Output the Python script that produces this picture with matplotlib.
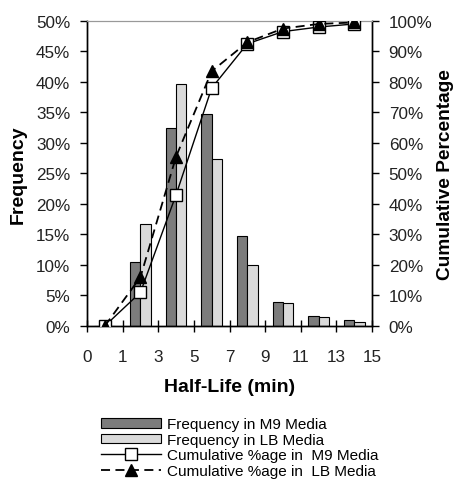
import matplotlib
matplotlib.use("Agg")
import matplotlib.pyplot as plt
import numpy as np
from matplotlib.ticker import FuncFormatter

plt.rcParams['font.family'] = ['Liberation Sans', 'DejaVu Sans']

# Data
bin_edges = ["0", "1", "3", "5", "7", "9", "11", "13", "15"]
freq_m9 = [0.0, 10.5, 32.5, 34.7, 14.7, 4.0, 1.7, 0.9]
freq_lb = [0.0, 16.7, 39.6, 27.3, 10.0, 3.7, 1.5, 0.7]
cum_m9 = [0.0, 11.0, 43.0, 78.0, 92.5, 96.5, 98.0, 99.0]
cum_lb = [0.0, 16.0, 55.5, 83.5, 93.0, 97.5, 99.0, 99.5]

fig = plt.figure(figsize=(4.59, 4.85), dpi=100)
ax = fig.add_axes([0.1895, 0.3258, 0.621, 0.629])
ax2 = ax.twinx()

x = np.arange(len(freq_m9))
w = 0.29
ax.bar(x - w / 2, freq_m9, width=w, color="#7c7c7c", edgecolor="black", linewidth=0.8,
       label="Frequency in M9 Media", zorder=2)
ax.bar(x + w / 2, freq_lb, width=w, color="#dadada", edgecolor="black", linewidth=0.8,
       label="Frequency in LB Media", zorder=2)

ax2.plot(x, cum_m9, color="black", linestyle="-", linewidth=1.0, marker="s", markersize=9,
         markerfacecolor="white", markeredgecolor="black", label="Cumulative %age in  M9 Media", zorder=3)
ax2.plot(x, cum_lb, color="black", linestyle=(0, (5, 3)), linewidth=1.3, marker="^", markersize=8,
         markerfacecolor="black", markeredgecolor="black", label="Cumulative %age in  LB Media", zorder=4)

ax.set_xlim(-0.5, len(freq_m9) - 0.5)
ax.set_ylim(0, 50)
ax2.set_ylim(0, 100)
ax.set_xticks(np.arange(len(bin_edges)) - 0.5)
ax.set_xticklabels(bin_edges)
ax.set_yticks(np.arange(0, 51, 5))
ax.yaxis.set_major_formatter(FuncFormatter(lambda v, p: f"{v:.0f}%"))
ax2.set_yticks(np.arange(0, 101, 10))
ax2.yaxis.set_major_formatter(FuncFormatter(lambda v, p: f"{v:.0f}%"))

fs = 12.3
ax.tick_params(axis="y", direction="out", length=5, width=1, labelsize=fs, pad=7, labelcolor="#222222")
ax2.tick_params(axis="y", direction="out", length=5, width=1, labelsize=fs, pad=7, labelcolor="#222222")
ax.tick_params(axis="x", direction="inout", length=9, width=1, labelsize=fs, pad=12, labelcolor="#222222")

for a in (ax, ax2):
    a.spines["top"].set_color("#999999")
    a.spines["left"].set_linewidth(1.0)
    a.spines["right"].set_linewidth(1.0)
    a.spines["bottom"].set_linewidth(1.0)

ax.set_ylabel("Frequency", fontsize=14, fontweight="bold", labelpad=7)
ax2.set_ylabel("Cumulative Percentage", fontsize=13.8, fontweight="bold", labelpad=3, rotation=90)
ax.set_xlabel("Half-Life (min)", fontsize=14, fontweight="bold", labelpad=10)

h1, l1 = ax.get_legend_handles_labels()
h2, l2 = ax2.get_legend_handles_labels()
fig.legend(h1 + h2, l1 + l2, loc="upper left", bbox_to_anchor=(0.207, 0.150), frameon=False,
           fontsize=11, handlelength=3.9, handletextpad=0.4, labelspacing=0.1, borderaxespad=0,
           handleheight=0.6)

fig.savefig("out.png", dpi=100)
